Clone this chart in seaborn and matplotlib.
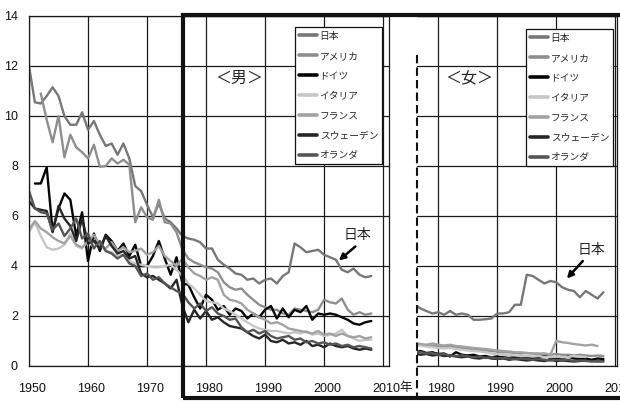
import numpy as np
import pandas as pd
import matplotlib
matplotlib.use("Agg")
import matplotlib.pyplot as plt
import seaborn as sns
from matplotlib.lines import Line2D
from matplotlib.patches import Rectangle
from matplotlib.transforms import ScaledTranslation

# ---- series ----
countries = ["日本", "アメリカ", "ドイツ", "イタリア", "フランス", "スウェーデン", "オランダ"]
line_colors = ["#777777", "#8e8e8e", "#050505", "#c6c6c6", "#a2a2a2", "#262626", "#555555"]

# male (first year, annual values)
male_start = {"日本": 1950, "アメリカ": 1952, "ドイツ": 1951, "イタリア": 1950,
              "フランス": 1950, "スウェーデン": 1950, "オランダ": 1950}
male_japan = [12.0, 10.55, 10.5, 10.8, 11.15, 10.8, 10.0, 9.65, 9.65, 10.15,
              9.45, 9.8, 9.25, 8.8, 8.9, 8.45, 8.9, 8.3, 7.2, 7.0,
              6.45, 5.95, 6.5, 5.9, 5.75, 5.5, 5.2, 5.1, 5.05, 4.95,
              4.7, 4.7, 4.25, 4.05, 3.9, 3.7, 3.65, 3.45, 3.5, 3.3,
              3.45, 3.5, 3.3, 3.6, 3.75, 4.9, 4.75, 4.55, 4.6, 4.65,
              4.45, 4.35, 4.25, 3.85, 3.75, 3.9, 3.65, 3.55, 3.6]
male_usa = [10.9, 9.85, 8.95, 10.0, 8.35, 9.25, 8.75, 8.55,
            8.3, 8.85, 7.97, 8.0, 8.3, 8.1, 8.25, 8.05, 5.75, 6.35,
            5.95, 5.85, 6.65, 5.75, 5.7, 5.35, 4.65, 4.3, 4.15, 4.05,
            3.95, 3.9, 3.75, 3.35, 3.15, 3.05, 3.1, 2.85, 2.65, 2.45,
            2.35, 2.25, 2.25, 2.1, 2.05, 2.3, 2.25, 2.2, 2.15, 2.25,
            2.65, 2.55, 2.5, 2.7, 2.25, 2.05, 2.15, 2.05, 2.1]
male_germany = [7.3, 7.3, 7.95, 5.4, 6.3, 6.9, 6.65, 5.2, 6.15,
                4.2, 5.3, 4.6, 5.25, 5.0, 4.6, 4.9, 4.4, 4.85, 4.0,
                4.0, 4.4, 5.0, 4.3, 3.65, 4.35, 3.3, 3.25, 2.75, 2.3,
                2.85, 2.65, 2.25, 2.4, 2.05, 2.3, 2.2, 1.9, 2.1, 1.95,
                2.25, 2.4, 1.9, 2.3, 1.95, 2.25, 2.15, 2.4, 1.85, 2.1,
                2.05, 2.1, 2.05, 1.95, 1.85, 1.7, 1.65, 1.75, 1.8]
male_italy = [5.35, 5.75, 5.2, 4.75, 4.65, 4.7, 4.85, 5.3, 4.8, 4.7,
              5.0, 4.75, 4.9, 4.6, 4.55, 4.4, 4.45, 4.2, 4.1, 4.05,
              4.0, 3.95, 3.95, 4.0, 4.05, 3.85, 3.6, 3.3, 3.1, 2.85,
              2.6, 2.55, 2.5, 2.3, 2.2, 2.05, 1.9, 1.75, 1.6, 1.5,
              1.45, 1.4, 1.4, 1.35, 1.3, 1.35, 1.3, 1.4, 1.25, 1.3,
              1.2, 1.25, 1.3, 1.45, 1.2, 1.1, 1.0, 1.05, 1.05]
male_france = [5.45, 5.8, 5.5, 5.35, 5.15, 5.0, 4.9, 5.2, 4.85, 4.75,
               4.95, 5.25, 4.85, 4.7, 4.95, 4.6, 4.75, 4.55, 4.6, 4.7,
               4.45, 4.55, 4.8, 4.4, 4.2, 4.0, 4.3, 3.95, 3.7, 3.6,
               3.45, 3.55, 3.45, 2.85, 2.65, 2.6, 2.5, 2.25, 2.1, 1.95,
               1.85, 1.7, 1.75, 1.65, 1.5, 1.45, 1.4, 1.35, 1.3, 1.4,
               1.25, 1.3, 1.2, 1.3, 1.2, 1.15, 1.2, 1.1, 1.15]
male_sweden = [6.6, 6.3, 6.25, 6.2, 5.35, 6.4, 5.9, 5.6, 5.0, 5.9,
               4.9, 5.0, 4.7, 5.2, 4.8, 4.5, 4.6, 4.3, 4.4, 3.7,
               3.55, 3.6, 3.45, 3.3, 3.1, 3.45, 2.4, 1.75, 2.25, 1.9,
               2.2, 1.85, 1.95, 1.75, 1.6, 1.55, 1.5, 1.35, 1.2, 1.1,
               1.25, 1.0, 0.95, 1.05, 0.9, 0.95, 0.85, 1.0, 0.8, 0.85,
               0.75, 0.9, 0.8, 0.75, 0.8, 0.7, 0.65, 0.7, 0.65]
male_netherlands = [7.0, 6.3, 6.15, 6.1, 5.45, 5.7, 5.2, 5.5, 5.9, 5.1,
                    5.3, 4.7, 5.0, 4.6, 4.5, 4.3, 4.45, 4.1, 4.0, 3.6,
                    3.7, 3.45, 3.55, 3.3, 3.15, 3.0, 2.9, 2.55, 2.3, 2.5,
                    2.2, 2.35, 2.1, 2.0, 1.85, 1.9, 1.55, 1.35, 1.45, 1.3,
                    1.4, 1.2, 1.1, 1.15, 1.2, 1.05, 1.1, 0.95, 1.0, 0.9,
                    0.95, 0.85, 0.9, 0.8, 0.85, 0.75, 0.8, 0.75, 0.7]

# female
female_start = 1976
female_japan = [2.45, 2.3, 2.2, 2.1, 2.15, 2.05, 2.2, 2.05, 2.1, 2.05,
                1.85, 1.85, 1.87, 1.9, 2.1, 2.1, 2.15, 2.45, 2.45, 3.65,
                3.6, 3.45, 3.3, 3.4, 3.35, 3.15, 3.05, 3.0, 2.75, 3.0,
                2.85, 2.7, 2.95]
female_usa = [0.85, 0.85, 0.82, 0.8, 0.8, 0.78, 0.78, 0.75, 0.72, 0.7,
              0.68, 0.65, 0.62, 0.6, 0.58, 0.55, 0.55, 0.52, 0.5, 0.52,
              0.5, 0.48, 0.5, 0.45, 0.48, 0.45, 0.45, 0.42, 0.45, 0.42,
              0.4, 0.42, 0.4]
female_germany = [0.55, 0.6, 0.52, 0.55, 0.48, 0.5, 0.38, 0.55, 0.45, 0.42,
                  0.45, 0.38, 0.4, 0.35, 0.38, 0.35, 0.32, 0.36, 0.3, 0.33,
                  0.3, 0.32, 0.45, 0.3, 0.28, 0.3, 0.38, 0.3, 0.28, 0.3,
                  0.25, 0.3, 0.28]
female_italy = [0.8, 0.82, 0.78, 0.75, 0.72, 0.7, 0.72, 0.68, 0.65, 0.62,
                0.6, 0.58, 0.55, 0.5, 0.48, 0.45, 0.45, 0.42, 0.4, 0.4,
                0.38, 0.4, 0.36, 0.35, 0.38, 0.35, 0.36, 0.4, 0.38, 0.36]
female_france = [0.9, 0.88, 0.85, 0.9, 0.85, 0.82, 0.85, 0.8, 0.78, 0.75,
                 0.72, 0.7, 0.68, 0.65, 0.62, 0.6, 0.58, 0.55, 0.55, 0.52,
                 0.5, 0.5, 0.48, 0.45, 1.0, 0.95, 0.92, 0.88, 0.85, 0.82,
                 0.85, 0.8]
female_sweden = [0.5, 0.45, 0.48, 0.42, 0.45, 0.4, 0.42, 0.38, 0.35, 0.38,
                 0.32, 0.3, 0.35, 0.3, 0.28, 0.3, 0.25, 0.28, 0.25, 0.22,
                 0.25, 0.22, 0.2, 0.25, 0.2, 0.22, 0.2, 0.18, 0.2, 0.22,
                 0.2, 0.18, 0.2]
female_netherlands = [0.6, 0.55, 0.5, 0.52, 0.45, 0.48, 0.42, 0.4, 0.42, 0.38,
                      0.35, 0.38, 0.32, 0.35, 0.3, 0.32, 0.3, 0.28, 0.3, 0.28,
                      0.25, 0.28, 0.25, 0.22, 0.25, 0.22, 0.25, 0.2, 0.22, 0.2,
                      0.18, 0.2, 0.18]

male_series = dict(zip(countries, [male_japan, male_usa, male_germany, male_italy,
                                   male_france, male_sweden, male_netherlands]))
female_series = dict(zip(countries, [female_japan, female_usa, female_germany, female_italy,
                                     female_france, female_sweden, female_netherlands]))


def long_frame(series, starts):
    parts = []
    for name, vals in series.items():
        s = starts[name] if isinstance(starts, dict) else starts
        parts.append(pd.DataFrame({"year": np.arange(s, s + len(vals)),
                                   "rate": vals, "country": name}))
    return pd.concat(parts, ignore_index=True)


male_df = long_frame(male_series, male_start)
female_df = long_frame(female_series, female_start)
palette = dict(zip(countries, line_colors))

# ---- style ----
sns.set_theme(style="white")
plt.rcParams["font.family"] = ["Liberation Sans Narrow", "Liberation Sans", "Noto Sans CJK JP", "DejaVu Sans"]
JP = ["Noto Sans CJK JP", "DejaVu Sans"]

W, H = 620, 401
fig = plt.figure(figsize=(W / 100, H / 100), dpi=100)


def fx(px):
    return px / W


def fy(py):
    return 1 - py / H


axL = fig.add_axes([fx(29), fy(366), fx(389) - fx(29), fy(16) - fy(366)])
axR = fig.add_axes([fx(417), fy(366), fx(617) - fx(417), fy(16) - fy(366)])

for ax, df in ((axL, male_df), (axR, female_df)):
    sns.lineplot(data=df, x="year", y="rate", hue="country", hue_order=countries,
                 palette=palette, linewidth=1.7, estimator=None, legend=False, ax=ax)
    ax.set_ylim(0, 14)
    ax.set_yticks(range(0, 15, 2))
    ax.grid(True, color="#1a1a1a", linewidth=0.9)
    ax.set_axisbelow(True)
    ax.set_xlabel("")
    ax.set_ylabel("")
    for sp in ax.spines.values():
        sp.set_color("#1a1a1a")
        sp.set_linewidth(0.9)
    ax.tick_params(length=0, labelsize=9, colors="#111111")

axL.set_xlim(1950, 2011)
axL.set_xticks(range(1950, 2011, 10))
axL.tick_params(axis="y", pad=8)
axL.tick_params(axis="x", pad=12)

axR.set_xlim(1976.4, 2010.3)
axR.set_xticks(range(1980, 2011, 10))
axR.tick_params(axis="y", labelleft=False)
axR.tick_params(axis="x", pad=12)
axR.spines["left"].set_visible(False)

shift = ScaledTranslation(3 / 100, 0, fig.dpi_scale_trans)
for ax in (axL, axR):
    for lab in ax.get_xticklabels():
        lab.set_transform(lab.get_transform() + shift)

# unit after the last year label
fig.text(fx(406), fy(388), "年", family=JP, fontsize=9, ha="center", va="center", color="#111111")

# panel titles
axL.text(1985.6, 11.52, "＜男＞", family=JP, fontsize=11.5, ha="center", va="center")
axR.text(1985.2, 11.48, "＜女＞", family=JP, fontsize=11.5, ha="center", va="center")

# Japan callouts
arrow = dict(arrowstyle="-|>", lw=1.8, color="black", mutation_scale=9, shrinkA=0, shrinkB=0)
axL.text(2005.6, 5.24, "日本", family=JP, fontsize=10, ha="center", va="center")
axL.annotate("", xy=(2002.5, 4.22), xytext=(2005.3, 4.78), arrowprops=arrow)
axR.text(2005.9, 4.64, "日本", family=JP, fontsize=10, ha="center", va="center")
axR.annotate("", xy=(2001.8, 3.5), xytext=(2004.5, 4.2), arrowprops=arrow)

# legends
handles = [Line2D([], [], color=c, lw=2.6) for c in line_colors]
for anchor in ((fx(382), fy(27)), (fx(613), fy(29))):
    leg = fig.legend(handles, countries, loc="upper right", bbox_to_anchor=anchor,
                     bbox_transform=fig.transFigure, frameon=True, fancybox=False,
                     framealpha=1, edgecolor="#111111", borderpad=0.4,
                     handlelength=1.9, handletextpad=0.25, labelspacing=1.02,
                     borderaxespad=0, prop={"family": JP, "size": 7})
    leg.get_frame().set_linewidth(0.9)

# dashed left edge of the female panel
fig.add_artist(Line2D([fx(417)] * 2, [fy(55), fy(398)], transform=fig.transFigure,
                      color="#111111", lw=1.5, dashes=(4, 2)))

# thick frame around the 1976- period
fig.add_artist(Rectangle((fx(183), fy(398)), 1.2, fy(15) - fy(398), transform=fig.transFigure,
                         fill=False, edgecolor="#111111", lw=3.0, zorder=5))

fig.savefig("out.png", dpi=100)
